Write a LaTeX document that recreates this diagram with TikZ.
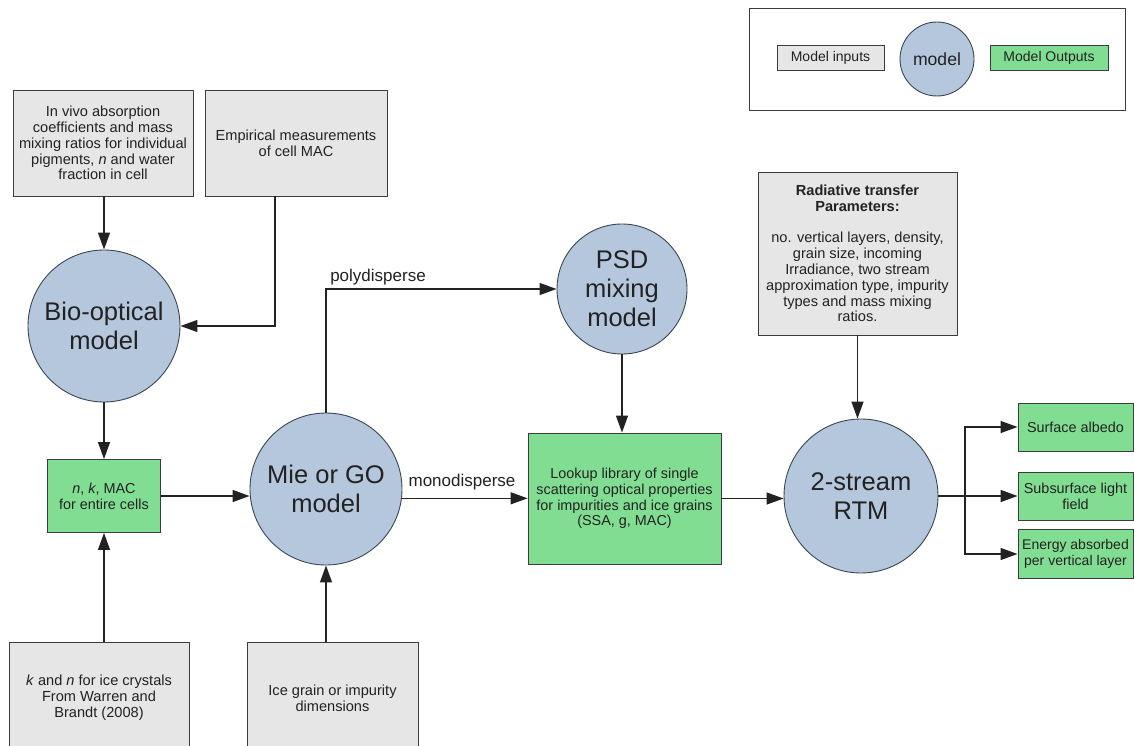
\documentclass[tikz,border=0pt]{standalone}
\usepackage{fontspec}
\setmainfont{Liberation Sans}
\usetikzlibrary{arrows.meta,calc}
\definecolor{greyfill}{HTML}{E6E6E6}
\definecolor{greenfill}{HTML}{80DD92}
\definecolor{bluefill}{HTML}{B4C7DC}
\definecolor{linecol}{HTML}{3C3C3C}
\definecolor{circline}{HTML}{3B4652}
\definecolor{txt}{HTML}{222222}
\begin{document}
\begin{tikzpicture}[x=1pt,y=-1pt,
  inbox/.style={draw=linecol, fill=greyfill, line width=0.9pt, align=center, text=txt,
    font=\fontsize{14.6}{15.8}\selectfont, inner sep=2pt},
  outbox/.style={draw=linecol, fill=greenfill, line width=0.9pt, align=center, text=txt,
    font=\fontsize{14.4}{15.8}\selectfont, inner sep=1pt},
  model/.style={circle, draw=circline, fill=bluefill, line width=0.9pt, inner sep=0pt,
    align=center, text=txt, font=\fontsize{25.5}{29}\selectfont},
  arr/.style={draw=txt, line width=1.3pt, -{Triangle[length=17pt,width=12pt]}},
  conn/.style={draw=txt, line width=1.3pt},
  lbl/.style={text=txt, font=\fontsize{17}{19}\selectfont, inner sep=0pt}]
\useasboundingbox (0,0) rectangle (1134,746);
\clip (0,0) rectangle (1134,746);
\fill[white] (0,0) rectangle (1134,746);

% legend
\node[draw=linecol, line width=0.9pt, minimum width=376pt, minimum height=102pt, inner sep=0pt] (legend) at (937,59) {};
\node[inbox, minimum width=107pt, minimum height=25pt, font=\fontsize{14}{15.8}\selectfont] (lin) at (830.5,57.5) {Model inputs};
\node[model, minimum size=74pt, font=\fontsize{17.6}{20}\selectfont] (lmod) at (937,59) {model};
\node[outbox, minimum width=118pt, minimum height=25pt, font=\fontsize{14}{15.8}\selectfont] (lout) at (1049,57.5) {Model Outputs};

% input boxes
\node[inbox, minimum width=180pt, minimum height=106pt] (invivo) at (103,143)
  {In vivo absorption\\coefficients and mass\\mixing ratios for individual\\pigments, \textit{n} and water\\fraction in cell};
\node[inbox, minimum width=182pt, minimum height=106pt] (emp) at (296,143)
  {Empirical measurements\\of cell MAC};
\node[inbox, minimum width=180pt, minimum height=112pt] (kn) at (99,698)
  {\textit{k} and \textit{n} for ice crystals\\From Warren and\\Brandt (2008)};
\node[inbox, minimum width=171pt, minimum height=112pt] (ice) at (332.5,698)
  {Ice grain or impurity\\dimensions};
\node[inbox, minimum width=199pt, minimum height=163pt] (rad) at (857.5,253.5)
  {\textbf{Radiative transfer}\\\textbf{Parameters:}\\[15.8pt]no. vertical layers, density,\\grain size, incoming\\Irradiance, two stream\\approximation type, impurity\\types and mass mixing\\ratios.};

% models
\node[model, minimum size=152pt] (bio) at (104,326) {Bio-optical\\model};
\node[model, minimum size=152pt] (mie) at (326,489) {Mie or GO\\model};
\node[model, minimum size=130pt] (psd) at (622,289) {PSD\\mixing\\model};
\node[model, minimum size=154pt] (rtm) at (861,496) {2-stream\\RTM};

% outputs
\node[outbox, minimum width=113pt, minimum height=73pt] (nk) at (104,496)
  {\textit{n}, \textit{k}, MAC\\for entire cells};
\node[outbox, minimum width=193pt, minimum height=131pt] (lookup) at (624.5,498.5)
  {Lookup library of single\\scattering optical properties\\for impurities and ice grains\\(SSA, g, MAC)};
\node[outbox, minimum width=115pt, minimum height=48pt] (out1) at (1075.5,427) {Surface albedo};
\node[outbox, minimum width=115pt, minimum height=48pt] (out2) at (1075.5,496) {Subsurface light\\field};
\node[outbox, minimum width=115pt, minimum height=49pt, font=\fontsize{14}{15.8}\selectfont] (out3) at (1075.5,554) {Energy absorbed\\per vertical layer};

% labels
\node[lbl] (poly) at (378,277) {polydisperse};
\node[lbl] (mono) at (462,482) {monodisperse};

% connectors
\coordinate (empx) at (275,0);
\coordinate (split) at (965,496);
\draw[arr] (bio.north |- invivo.south) -- (bio.north);
\draw[arr] (emp.south -| empx) |- (bio.east);
\draw[arr] (bio.south) -- (nk.north);
\draw[arr] (kn.north -| nk.south) -- (nk.south);
\draw[arr] (nk.east) -- (nk.east -| mie.west);
\draw[arr] (ice.north -| mie.south) -- (mie.south);
\draw[arr] (mie.north) |- (psd.west);
\draw[arr] (mie.-7) -- (mie.-7 -| lookup.west);
\draw[arr] (psd.south) -- (psd.south |- lookup.north);
\draw[arr] (lookup.east) -- (lookup.east -| rtm.west);
\draw[arr] (rad.south) -- (rad.south |- rtm.north);
\draw[conn] (rtm.east) -- (split);
\draw[arr] (split) |- (out1.west);
\draw[arr] (split) -- (out2.west);
\draw[arr] (split) |- (out3.west);
\end{tikzpicture}
\end{document}
